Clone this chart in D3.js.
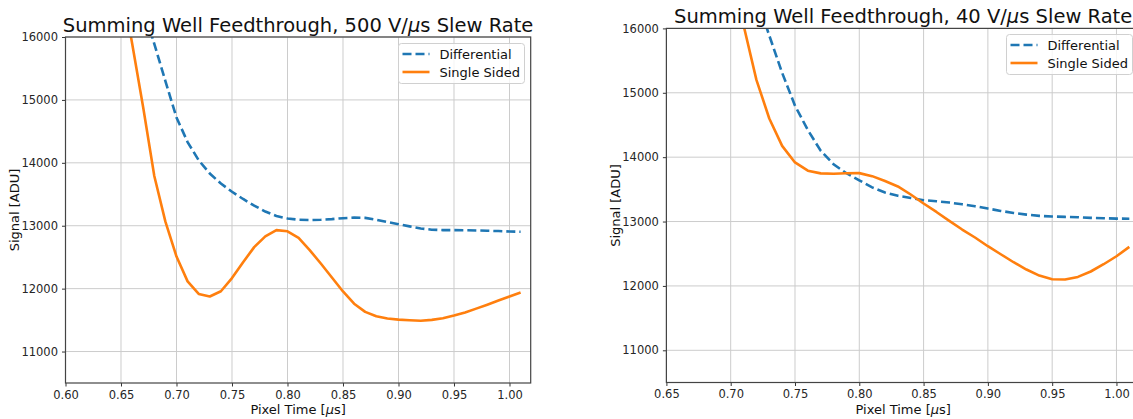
<!DOCTYPE html>
<html>
<head>
<meta charset="utf-8">
<script src="https://cdn.jsdelivr.net/npm/d3@7"></script>
<style>
  body { margin: 0; background: #fff; }
  svg { display: block; font-family: "DejaVu Sans", sans-serif; }
</style>
</head>
<body>
<svg width="1133" height="419"></svg>
<script>
const width = 1133, height = 419;
const svg = d3.select("svg");

// Pixel times (us) for the 500 V/us panel
const timeFast = [0.65, 0.66, 0.67, 0.68, 0.69, 0.70, 0.71, 0.72, 0.73, 0.74, 0.75, 0.76, 0.77,
    0.78, 0.79, 0.80, 0.81, 0.82, 0.83, 0.84, 0.85, 0.86, 0.87, 0.88, 0.89, 0.90, 0.91, 0.92,
    0.93, 0.94, 0.95, 0.96, 0.97, 0.98, 0.99, 1.00, 1.01];
const diffFast = [17700, 17100, 16480, 15890, 15300, 14720, 14330, 14040, 13830, 13670, 13540,
    13425, 13320, 13225, 13155, 13115, 13095, 13090, 13095, 13105, 13120, 13130, 13125, 13095,
    13058, 13025, 12990, 12957, 12937, 12930, 12930, 12929, 12925, 12920, 12915, 12908, 12905];
const singleFast = [16900, 15900, 14880, 13790, 13065, 12510, 12115, 11915, 11875, 11958, 12168,
    12420, 12660, 12830, 12930, 12912, 12808, 12612, 12400, 12178, 11955, 11760, 11630, 11560,
    11525, 11508, 11498, 11490, 11503, 11530, 11572, 11622, 11682, 11745, 11810, 11875, 11940];

// Pixel times (us) for the 40 V/us panel
const timeSlow = [0.70, 0.71, 0.72, 0.73, 0.74, 0.75, 0.76, 0.77, 0.78, 0.79, 0.80, 0.81, 0.82,
    0.83, 0.84, 0.85, 0.86, 0.87, 0.88, 0.89, 0.90, 0.91, 0.92, 0.93, 0.94, 0.95, 0.96, 0.97,
    0.98, 0.99, 1.00, 1.01];
const diffSlow = [17800, 17100, 16480, 15890, 15310, 14800, 14420, 14100, 13890, 13750, 13640,
    13530, 13452, 13400, 13367, 13332, 13315, 13295, 13268, 13238, 13202, 13165, 13134, 13108,
    13088, 13078, 13072, 13067, 13057, 13051, 13046, 13044];
const singleSlow = [17000, 16050, 15200, 14600, 14175, 13918, 13790, 13748, 13743, 13750, 13752,
    13705, 13630, 13545, 13420, 13280, 13149, 13010, 12876, 12752, 12617, 12492, 12368, 12255,
    12161, 12104, 12099, 12140, 12224, 12337, 12461, 12606];

const xTicksFast = [0.60, 0.65, 0.70, 0.75, 0.80, 0.85, 0.90, 0.95, 1.00];
const xTicksSlow = [0.65, 0.70, 0.75, 0.80, 0.85, 0.90, 0.95, 1.00];
const yTicks = [11000, 12000, 13000, 14000, 15000, 16000];
const seriesNames = ["Differential", "Single Sided"];
const colors = ["#1f77b4", "#ff7f0e"];

function drawPanel(p, idx) {
    const x = d3.scaleLinear().domain(p.xDomain).range([p.left, p.right]);
    const y = d3.scaleLinear().domain([10500, 16000]).range([p.bottom, p.top]);
    const g = svg.append("g");

    // grid
    g.append("g").selectAll("line").data(p.xTicks).enter().append("line")
        .attr("x1", d => x(d)).attr("x2", d => x(d))
        .attr("y1", p.top).attr("y2", p.bottom)
        .attr("stroke", "#cccccc").attr("stroke-width", 1);
    g.append("g").selectAll("line").data(yTicks).enter().append("line")
        .attr("x1", p.left).attr("x2", p.right)
        .attr("y1", d => y(d)).attr("y2", d => y(d))
        .attr("stroke", "#cccccc").attr("stroke-width", 1);

    // lines, clipped to the axes box
    const clipId = "clip" + idx;
    svg.append("clipPath").attr("id", clipId).append("rect")
        .attr("x", p.left).attr("y", p.top)
        .attr("width", p.right - p.left).attr("height", p.bottom - p.top);
    const line = d3.line().x(d => x(d[0])).y(d => y(d[1]));
    const lines = g.append("g").attr("clip-path", `url(#${clipId})`);
    lines.append("path").datum(d3.zip(p.time, p.diff))
        .attr("d", line).attr("fill", "none")
        .attr("stroke", colors[0]).attr("stroke-width", 2.6)
        .attr("stroke-dasharray", "9,4");
    lines.append("path").datum(d3.zip(p.time, p.single))
        .attr("d", line).attr("fill", "none")
        .attr("stroke", colors[1]).attr("stroke-width", 2.6)
        .attr("stroke-linejoin", "round");

    // axes
    const xAxis = g.append("g").attr("transform", `translate(0,${p.bottom})`)
        .call(d3.axisBottom(x).tickValues(p.xTicks).tickFormat(d3.format(".2f")).tickSize(3.5).tickPadding(4));
    const yAxis = g.append("g").attr("transform", `translate(${p.left},0)`)
        .call(d3.axisLeft(y).tickValues(yTicks).tickFormat(d3.format("d")).tickSize(3.5).tickPadding(4));
    [xAxis, yAxis].forEach(a => {
        a.select(".domain").remove();
        a.selectAll("line").attr("stroke", "#333");
        a.selectAll("text").attr("fill", "#262626")
            .style("font-size", "11.5px").style("font-family", "DejaVu Sans");
    });

    // frame
    g.append("rect").attr("x", p.left).attr("y", p.top)
        .attr("width", p.right - p.left).attr("height", p.bottom - p.top)
        .attr("fill", "none").attr("stroke", "#444").attr("stroke-width", 1.2);

    const cx = (p.left + p.right) / 2;
    // title
    const title = g.append("text").attr("x", cx).attr("y", p.top - 5)
        .attr("text-anchor", "middle").style("font-size", "19.5px").attr("fill", "#111");
    title.append("tspan").text(`Summing Well Feedthrough, ${p.rate} V/`);
    title.append("tspan").style("font-style", "italic").text("\u03bc");
    title.append("tspan").text("s Slew Rate");

    // axis labels
    const xl = g.append("text").attr("x", cx).attr("y", 414)
        .attr("text-anchor", "middle").style("font-size", "13px").attr("fill", "#111");
    xl.append("tspan").text("Pixel Time [");
    xl.append("tspan").style("font-style", "italic").text("\u03bc");
    xl.append("tspan").text("s]");
    g.append("text")
        .attr("transform", `translate(${p.left - 51},${(p.top + p.bottom) / 2}) rotate(-90)`)
        .attr("text-anchor", "middle").attr("dy", "0.35em")
        .style("font-size", "13px").attr("fill", "#111").text("Signal [ADU]");

    // legend
    const lg = g.append("g").attr("transform", `translate(${p.legendX},${p.legendY})`);
    lg.append("rect").attr("width", 126).attr("height", 40).attr("rx", 3)
        .attr("fill", "#fff").attr("fill-opacity", 0.8)
        .attr("stroke", "#d0d0d0").attr("stroke-width", 1);
    seriesNames.forEach((name, i) => {
        const yy = 10.5 + i * 18;
        lg.append("line").attr("x1", 4).attr("x2", 31).attr("y1", yy).attr("y2", yy)
            .attr("stroke", colors[i]).attr("stroke-width", 2.6)
            .attr("stroke-dasharray", i === 0 ? "9,4" : null);
        lg.append("text").attr("x", 41).attr("y", yy).attr("dy", "0.35em")
            .style("font-size", "13px").attr("fill", "#111").text(name);
    });
}

const panels = [
    { time: timeFast, diff: diffFast, single: singleFast, xTicks: xTicksFast, rate: "500",
      xDomain: [0.60, 1.0191], left: 65.5, right: 530.7, top: 37, bottom: 383,
      legendX: 398.5, legendY: 43.5 },
    { time: timeSlow, diff: diffSlow, single: singleSlow, xTicks: xTicksSlow, rate: "40",
      xDomain: [0.65, 1.0183], left: 666.4, right: 1140, top: 28.4, bottom: 382.5,
      legendX: 1006.5, legendY: 34.5 }
];
panels.forEach(drawPanel);
</script>
</body>
</html>
